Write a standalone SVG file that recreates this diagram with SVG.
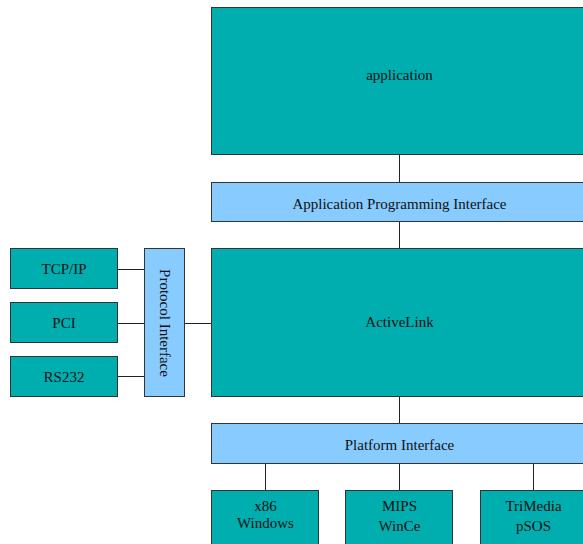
<svg xmlns="http://www.w3.org/2000/svg" width="583" height="544" viewBox="0 0 583 544">
<style>
.box{fill:#00aeb0;stroke:#333;stroke-width:1}
.ifc{fill:#88ccff;stroke:#333;stroke-width:1}
.t{font-family:"Liberation Serif","DejaVu Serif",serif;font-size:15px;fill:#111;text-anchor:middle}
.c{stroke:#222;stroke-width:1;fill:none}
</style>
<rect width="583" height="544" fill="#fff"/>
<g id="connectors">
<line class="c" x1="399.5" y1="155" x2="399.5" y2="182"/>
<line class="c" x1="399.5" y1="222" x2="399.5" y2="248"/>
<line class="c" x1="399.5" y1="397" x2="399.5" y2="423"/>
<line class="c" x1="265.5" y1="464" x2="265.5" y2="490"/>
<line class="c" x1="399.5" y1="464" x2="399.5" y2="490"/>
<line class="c" x1="533.5" y1="464" x2="533.5" y2="490"/>
<line class="c" x1="118" y1="269.5" x2="144" y2="269.5"/>
<line class="c" x1="118" y1="323.5" x2="144" y2="323.5"/>
<line class="c" x1="118" y1="376.5" x2="144" y2="376.5"/>
<line class="c" x1="185" y1="323.5" x2="211" y2="323.5"/>
</g>
<g id="application"><rect class="box" x="211.5" y="7.5" width="380" height="147"/><text class="t" x="399.5" y="80">application</text></g>
<g id="api"><rect class="ifc" x="211.5" y="182.5" width="380" height="39"/><text class="t" x="399.5" y="209">Application Programming Interface</text></g>
<g id="activelink"><rect class="box" x="211.5" y="248.5" width="380" height="148"/><text class="t" x="399.5" y="327">ActiveLink</text></g>
<g id="platform"><rect class="ifc" x="211.5" y="423.5" width="380" height="40"/><text class="t" x="399.5" y="450">Platform Interface</text></g>
<g id="x86"><rect class="box" x="211.5" y="490.5" width="107" height="60"/><text class="t" x="265.5" y="511">x86</text><text class="t" x="265.5" y="528">Windows</text></g>
<g id="mips"><rect class="box" x="345.5" y="490.5" width="107" height="60"/><text class="t" x="399.5" y="511">MIPS</text><text class="t" x="399.5" y="531">WinCe</text></g>
<g id="trimedia"><rect class="box" x="480.5" y="490.5" width="107" height="60"/><text class="t" x="533.5" y="511">TriMedia</text><text class="t" x="533.5" y="531">pSOS</text></g>
<g id="tcpip"><rect class="box" x="10.5" y="248.5" width="107" height="40"/><text class="t" x="64" y="274">TCP/IP</text></g>
<g id="pci"><rect class="box" x="10.5" y="302.5" width="107" height="40"/><text class="t" x="64" y="328">PCI</text></g>
<g id="rs232"><rect class="box" x="10.5" y="356.5" width="107" height="40"/><text class="t" x="64" y="382">RS232</text></g>
<g id="protocol"><rect class="ifc" x="144.5" y="248.5" width="40" height="148"/><text class="t" transform="translate(160,323) rotate(90)">Protocol Interface</text></g>
</svg>
